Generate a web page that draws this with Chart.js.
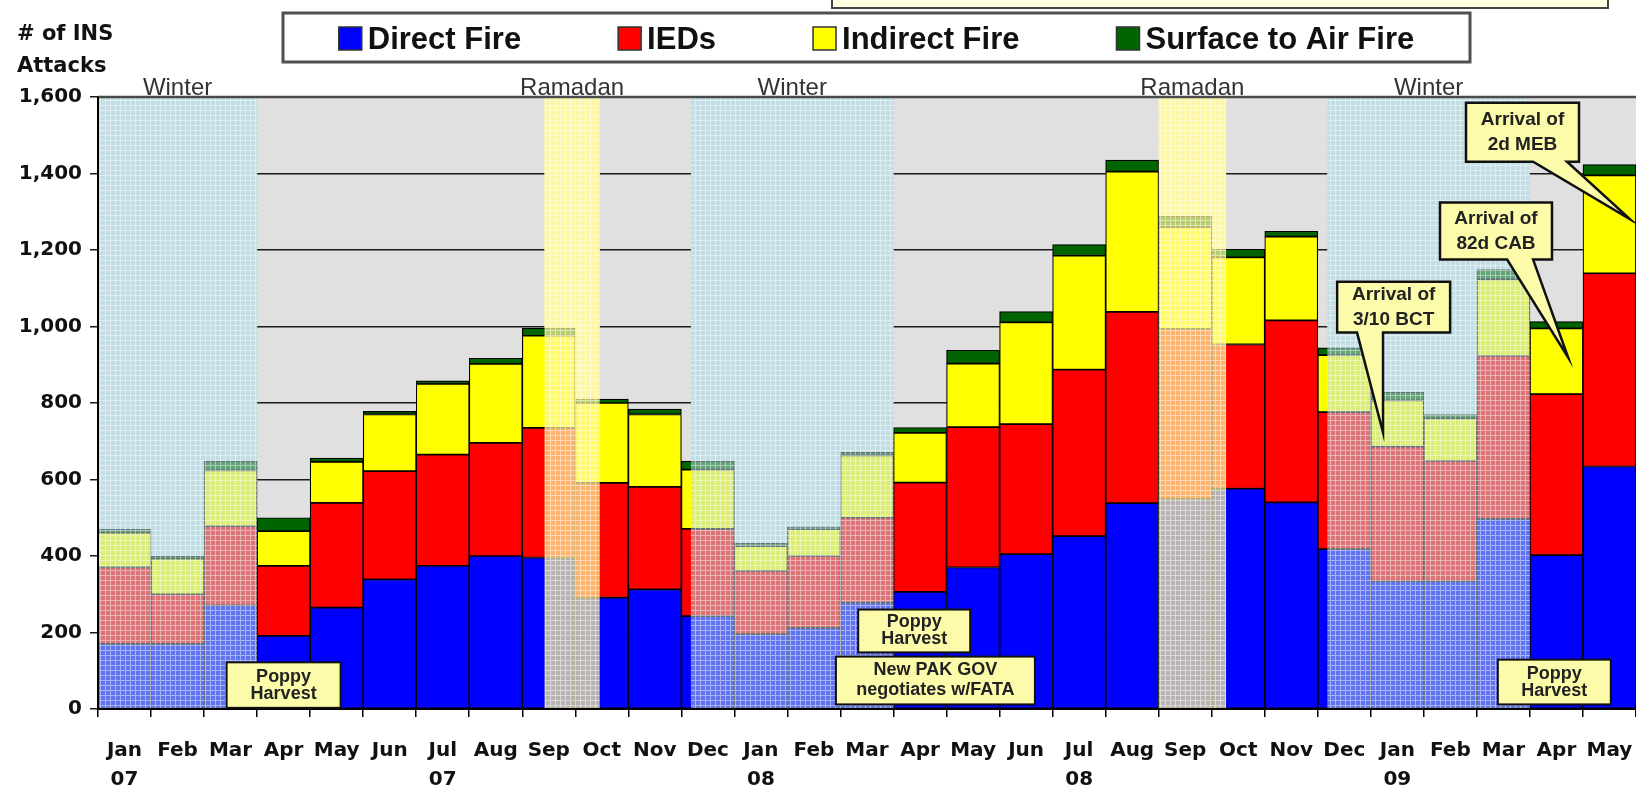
<!DOCTYPE html>
<html>
<head>
<meta charset="utf-8">
<script src="https://cdn.jsdelivr.net/npm/chart.js@4/dist/chart.umd.min.js"></script>
<style>
  html, body { margin: 0; padding: 0; background: #fff; }
  #wrap { width: 1636px; height: 790px; }
</style>
</head>
<body>
<div id="wrap"><canvas id="ins_chart" width="1636" height="790"></canvas></div>
<script>
// months (Jan 07 .. May 09)
var monthNames = ['Jan','Feb','Mar','Apr','May','Jun','Jul','Aug','Sep','Oct','Nov','Dec',
                  'Jan','Feb','Mar','Apr','May','Jun','Jul','Aug','Sep','Oct','Nov','Dec',
                  'Jan','Feb','Mar','Apr','May']
var yearMarks = ['07','','','','','','07','','','','','',
                 '08','','','','','','08','','','','','',
                 '09','','','','']

// attacks per month
var seriesNames = ['Direct Fire', 'IEDs', 'Indirect Fire', 'Surface to Air Fire']
var directFire = [170,170,271,191,265,339,374,400,396,291,313,243,196,212,278,306,370,405,452,538,550,576,540,418,334,334,497,402,634]
var ieds       = [200,130,207,183,274,283,291,296,339,300,268,228,165,188,222,286,367,340,435,500,444,377,476,358,352,315,426,421,505]
var indirect   = [ 91, 93,146, 91,107,148,185,206,241,209,189,155, 65, 70,163,130,166,266,298,367,266,228,219,149,121,111,200,172,256]
var surfAir    = [  9,  7, 24, 35, 10,  8,  8, 15, 20, 10, 14, 22,  7,  6,  8, 14, 35, 28, 29, 30, 28, 21, 14, 19, 21, 10, 26, 18, 28]
var seriesColors = ['#0000ff', '#ff0000', '#ffff00', '#006400']

// y axis
var yMin = 0, yMax = 1600, yStep = 200

// shaded periods, in month index units
var winterSpans  = [[-0.5, 2.5], [10.68, 14.5], [22.68, 26.5]]
var ramadanSpans = [[7.92, 8.96], [19.5, 20.77]]

// text boxes (x = month index, top/bottom = attacks)
var noteBoxes = [
  { text: ['Poppy', 'Harvest'], x: 3.0, top: 122, bottom: 3, w: 114, gap: 17 },
  { text: ['Poppy', 'Harvest'], x: 14.89, top: 260, bottom: 148, w: 112, gap: 17 },
  { text: ['New PAK GOV', 'negotiates w/FATA'], x: 15.29, top: 137, bottom: 12, w: 199, gap: 20 },
  { text: ['Poppy', 'Harvest'], x: 26.96, top: 129, bottom: 12, w: 113, gap: 17 }
]
var callouts = [
  { text: ['Arrival of', '3/10 BCT'], x: 23.93, top: 1117, bottom: 984, w: 113, baseL: 23.24, baseR: 23.73, tipX: 23.73, tipY: 723 },
  { text: ['Arrival of', '82d CAB'], x: 25.86, top: 1324, bottom: 1175, w: 112, baseL: 26.07, baseR: 26.56, tipX: 27.22, tipY: 919 },
  { text: ['Arrival of', '2d MEB'], x: 26.36, top: 1585, bottom: 1431, w: 113, baseL: 26.56, baseR: 27.2, tipX: 28.39, tipY: 1280 }
]

var labels = monthNames.map(function (m, i) { return [m, yearMarks[i]] })
var seriesData = [directFire, ieds, indirect, surfAir]

var makeTile = function (fill, line) {
  var c = document.createElement('canvas')
  c.width = 5; c.height = 5
  var g = c.getContext('2d')
  g.fillStyle = fill; g.fillRect(0, 0, 5, 5)
  g.fillStyle = line; g.fillRect(0, 0, 5, 1); g.fillRect(0, 1, 1, 4)
  return c
}
var winterTile = makeTile('rgba(188,220,228,0.52)', 'rgba(255,255,255,0.45)')
var ramadanTile = makeTile('rgba(255,246,150,0.72)', 'rgba(255,255,255,0.5)')

var spanRect = function (chart, span) {
  var x = chart.scales.x, a = chart.chartArea
  var l = Math.max(a.left, x.getPixelForValue(span[0]))
  var r = Math.min(a.right, x.getPixelForValue(span[1]))
  return [l, r]
}

var drawLines = function (ctx, lines, cx, cy, gap) {
  var start = cy - (lines.length - 1) * gap / 2
  lines.forEach(function (t, i) { ctx.fillText(t, cx, start + i * gap) })
}

var periodsPlugin = {
  id: 'periods',
  beforeDraw: function (chart) {
    var a = chart.chartArea, ctx = chart.ctx
    ctx.save()
    ctx.fillStyle = '#e0e0e0'
    ctx.fillRect(a.left, a.top, a.right - a.left, a.bottom - a.top)
    ctx.restore()
  },
  beforeDatasetsDraw: function (chart) {
    var a = chart.chartArea, ctx = chart.ctx
    ctx.save()
    ctx.fillStyle = '#c8dfe3'
    winterSpans.forEach(function (s) {
      var r = spanRect(chart, s); ctx.fillRect(r[0], a.top, r[1] - r[0], a.bottom - a.top)
    })
    ctx.fillStyle = '#f6f3c8'
    ramadanSpans.forEach(function (s) {
      var r = spanRect(chart, s); ctx.fillRect(r[0], a.top, r[1] - r[0], a.bottom - a.top)
    })
    ctx.restore()
  },
  afterDatasetsDraw: function (chart) {
    var a = chart.chartArea, ctx = chart.ctx, xs = chart.scales.x, ys = chart.scales.y
    ctx.save()
    // washed-out overlays
    ctx.fillStyle = ctx.createPattern(winterTile, 'repeat')
    winterSpans.forEach(function (s) {
      var r = spanRect(chart, s); ctx.fillRect(r[0], a.top, r[1] - r[0], a.bottom - a.top)
    })
    ctx.fillStyle = ctx.createPattern(ramadanTile, 'repeat')
    ramadanSpans.forEach(function (s) {
      var r = spanRect(chart, s); ctx.fillRect(r[0], a.top, r[1] - r[0], a.bottom - a.top)
    })
    // frame
    ctx.strokeStyle = '#4a4a4a'; ctx.lineWidth = 2.5
    ctx.beginPath(); ctx.moveTo(a.left, a.top); ctx.lineTo(a.right, a.top); ctx.stroke()
    ctx.strokeStyle = '#000'; ctx.lineWidth = 2
    ctx.beginPath(); ctx.moveTo(a.left, a.top); ctx.lineTo(a.left, a.bottom); ctx.lineTo(a.right, a.bottom); ctx.stroke()

    // period names
    ctx.fillStyle = '#333'
    ctx.font = '24px "Liberation Sans", Arial, sans-serif'
    ctx.textAlign = 'center'; ctx.textBaseline = 'alphabetic'
    winterSpans.forEach(function (s) { var r = spanRect(chart, s); ctx.fillText('Winter', (r[0] + r[1]) / 2, a.top - 2) })
    ramadanSpans.forEach(function (s) { var r = spanRect(chart, s); ctx.fillText('Ramadan', (r[0] + r[1]) / 2, a.top - 2) })

    // note boxes
    ctx.textBaseline = 'middle'
    noteBoxes.forEach(function (n) {
      var cx = xs.getPixelForValue(n.x), t = ys.getPixelForValue(n.top), b = ys.getPixelForValue(n.bottom)
      ctx.fillStyle = '#fbfbaa'; ctx.strokeStyle = '#111'; ctx.lineWidth = 2
      ctx.fillRect(cx - n.w / 2, t, n.w, b - t)
      ctx.strokeRect(cx - n.w / 2, t, n.w, b - t)
      ctx.fillStyle = '#222'
      ctx.font = 'bold 18px "Liberation Sans", Arial, sans-serif'
      drawLines(ctx, n.text, cx, (t + b) / 2, n.gap)
    })
    // callouts
    callouts.forEach(function (c) {
      var cx = xs.getPixelForValue(c.x), t = ys.getPixelForValue(c.top), b = ys.getPixelForValue(c.bottom)
      var l = cx - c.w / 2, r = cx + c.w / 2
      ctx.beginPath()
      ctx.moveTo(l, t); ctx.lineTo(r, t); ctx.lineTo(r, b)
      ctx.lineTo(xs.getPixelForValue(c.baseR), b)
      ctx.lineTo(xs.getPixelForValue(c.tipX), ys.getPixelForValue(c.tipY))
      ctx.lineTo(xs.getPixelForValue(c.baseL), b)
      ctx.lineTo(l, b); ctx.closePath()
      ctx.fillStyle = '#fbfbaa'; ctx.fill()
      ctx.strokeStyle = '#111'; ctx.lineWidth = 2.5; ctx.lineJoin = 'miter'; ctx.stroke()
      ctx.fillStyle = '#222'
      ctx.font = 'bold 19px "Liberation Sans", Arial, sans-serif'
      drawLines(ctx, c.text, cx, (t + b) / 2, 25)
    })
    ctx.restore()
  },
  afterDraw: function (chart) {
    var ctx = chart.ctx
    ctx.save()
    // box cut off at top
    ctx.fillStyle = '#ffffe2'; ctx.strokeStyle = '#444'; ctx.lineWidth = 2
    ctx.fillRect(832, -4, 776, 12); ctx.strokeRect(832, -4, 776, 12)

    // y title
    ctx.fillStyle = '#111'
    ctx.font = 'bold 21px "DejaVu Sans", sans-serif'
    ctx.textAlign = 'left'; ctx.textBaseline = 'alphabetic'
    ctx.fillText('# of INS', 17, 40)
    ctx.fillText('Attacks', 17, 72)

    // legend
    var bx = 283, by = 13, bw = 1187, bh = 49
    ctx.fillStyle = '#fff'; ctx.fillRect(bx, by, bw, bh)
    ctx.strokeStyle = '#505050'; ctx.lineWidth = 3; ctx.strokeRect(bx, by, bw, bh)
    ctx.font = 'bold 31px "Liberation Sans", Arial, sans-serif'
    var sw = 23, sgap = 6, igap = 97
    var total = 0
    seriesNames.forEach(function (s, i) {
      total += sw + sgap + ctx.measureText(s).width + (i < seriesNames.length - 1 ? igap : 0)
    })
    var x = bx + (bw - total) / 2
    seriesNames.forEach(function (s, i) {
      ctx.fillStyle = seriesColors[i]; ctx.fillRect(x, 27, sw, sw)
      ctx.strokeStyle = '#333'; ctx.lineWidth = 1.5; ctx.strokeRect(x, 27, sw, sw)
      ctx.fillStyle = '#111'
      ctx.fillText(s, x + sw + sgap, 49)
      x += sw + sgap + ctx.measureText(s).width + igap
    })
    ctx.restore()
  }
}

var chartCanvas = document.getElementById('ins_chart').getContext('2d')
var chartData = {
  labels: labels,
  datasets: seriesNames.map(function (name, i) {
    return {
      label: name,
      data: seriesData[i],
      backgroundColor: seriesColors[i],
      borderColor: '#000',
      borderWidth: 1.2,
      borderSkipped: false,
      barPercentage: 1,
      categoryPercentage: 1
    }
  })
}
var chartOptions = {
  responsive: false,
  animation: false,
  devicePixelRatio: 1,
  layout: { padding: { top: 97, left: 0, right: 0, bottom: 0 } },
  plugins: { legend: { display: false }, tooltip: { enabled: false } },
  scales: {
    x: {
      stacked: true,
      grid: { display: true, drawOnChartArea: false, drawTicks: true, tickLength: 8, color: '#000', lineWidth: 1.5 },
      border: { display: true, color: '#000', width: 2 },
      ticks: {
        color: '#111', padding: 20, maxRotation: 0, autoSkip: false,
        font: { family: '"DejaVu Sans", sans-serif', weight: 'bold', size: 20, lineHeight: 1.42 }
      },
      afterFit: function (s) { s.height = 81; s.paddingLeft = 0; s.paddingRight = 0 }
    },
    y: {
      stacked: true,
      min: yMin, max: yMax,
      grid: { color: '#1a1a1a', lineWidth: 1.5, tickLength: 8, drawTicks: true },
      border: { display: true, color: '#000', width: 2 },
      ticks: {
        stepSize: yStep, color: '#111', padding: 8,
        font: { family: '"DejaVu Sans", sans-serif', weight: 'bold', size: 20 },
        callback: function (v) { return v.toLocaleString('en-US') }
      },
      afterFit: function (s) { s.width = 98; s.paddingTop = 0; s.paddingBottom = 0 }
    }
  }
}

new Chart(chartCanvas, {
  type: 'bar',
  data: chartData,
  options: chartOptions,
  plugins: [periodsPlugin]
})
</script>
</body>
</html>
